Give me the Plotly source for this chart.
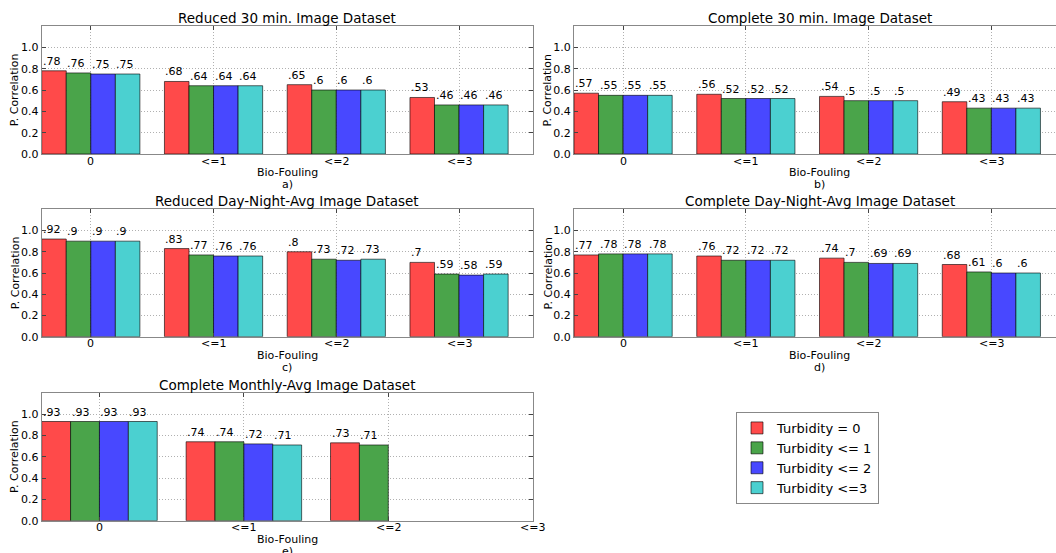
import plotly.graph_objects as go

categories = ["0", "<=1", "<=2", "<=3"]
series_names = ["Turbidity = 0", "Turbidity <= 1", "Turbidity <= 2", "Turbidity <=3"]
colors = ["rgb(255,74,74)", "rgb(74,164,74)", "rgb(72,72,255)", "rgb(75,208,208)"]

titles = ["Reduced 30 min. Image Dataset", "Complete 30 min. Image Dataset",
          "Reduced Day-Night-Avg Image Dataset", "Complete Day-Night-Avg Image Dataset",
          "Complete Monthly-Avg Image Dataset"]
letters = ["a)", "b)", "c)", "d)", "e)"]

a_red = [0.78, 0.68, 0.65, 0.53]
a_green = [0.76, 0.64, 0.6, 0.46]
a_blue = [0.75, 0.64, 0.6, 0.46]
a_cyan = [0.75, 0.64, 0.6, 0.46]

b_red = [0.57, 0.56, 0.54, 0.49]
b_green = [0.55, 0.52, 0.5, 0.43]
b_blue = [0.55, 0.52, 0.5, 0.43]
b_cyan = [0.55, 0.52, 0.5, 0.43]

c_red = [0.92, 0.83, 0.8, 0.7]
c_green = [0.9, 0.77, 0.73, 0.59]
c_blue = [0.9, 0.76, 0.72, 0.58]
c_cyan = [0.9, 0.76, 0.73, 0.59]

d_red = [0.77, 0.76, 0.74, 0.68]
d_green = [0.78, 0.72, 0.7, 0.61]
d_blue = [0.78, 0.72, 0.69, 0.6]
d_cyan = [0.78, 0.72, 0.69, 0.6]

e_red = [0.93, 0.74, 0.73, None]
e_green = [0.93, 0.74, 0.71, None]
e_blue = [0.93, 0.72, None, None]
e_cyan = [0.93, 0.71, None, None]

panels = [
    [a_red, a_green, a_blue, a_cyan],
    [b_red, b_green, b_blue, b_cyan],
    [c_red, c_green, c_blue, c_cyan],
    [d_red, d_green, d_blue, d_cyan],
    [e_red, e_green, e_blue, e_cyan],
]

W, H = 1056, 553
# pixel boxes (left, nominal right, top, bottom); right column is cut by the page edge
boxes = [
    (41.7, 532.7, 26, 154),
    (574, 1065, 26, 154),
    (41.7, 532.7, 209.3, 336.7),
    (574, 1065, 209.3, 336.7),
    (41.7, 532.7, 392.7, 520.7),
]
xmax = [3.6, 3.6, 3.6, 3.6, 3.0]

FONT = "DejaVu Sans"
fig = go.Figure()
annotations = []
bw = 0.2

for p, (data, box) in enumerate(zip(panels, boxes)):
    sfx = "" if p == 0 else str(p + 1)
    xa, ya = "x" + sfx, "y" + sfx
    l, r, t, b = box
    right_col = p in (1, 3)
    r_vis = min(r, W)
    x_hi = -0.4 + (xmax[p] + 0.4) * (r_vis - l) / (r - l)
    for j, vals in enumerate(data):
        xs = [i - 0.4 + j * bw + bw / 2 for i in range(len(categories))]
        fig.add_trace(go.Bar(
            x=xs, y=vals, width=bw, name=series_names[j],
            marker=dict(color=colors[j], line=dict(color="rgba(0,0,0,0.6)", width=1)),
            showlegend=(p == 0), xaxis=xa, yaxis=ya, hoverinfo="y"))
        for i, v in enumerate(vals):
            if v is None:
                continue
            annotations.append(dict(
                x=i - 0.4 + j * bw, y=v, xref=xa, yref=ya, text=str(v).lstrip("0"),
                showarrow=False, xanchor="left", yanchor="bottom", yshift=1, xshift=-1,
                font=dict(size=11, color="black", family=FONT)))
    dom_x = [l / W, r_vis / W]
    dom_y = [1 - b / H, 1 - t / H]
    axis_common = dict(showline=True, linecolor="#888888", linewidth=1,
                       showgrid=True, gridcolor="#b0b0b0", griddash="1px,2px", gridwidth=1,
                       zeroline=False, tickfont=dict(size=11, color="black", family=FONT),
                       ticks="inside", ticklen=4, tickcolor="#444")
    fig.update_layout(**{
        ("xaxis" + sfx): dict(domain=dom_x, anchor=ya, range=[-0.4, x_hi],
                             tickvals=list(range(len(categories))), showticklabels=False,
                             mirror="ticks", automargin=False, **axis_common),
        ("yaxis" + sfx): dict(domain=dom_y, anchor=xa, range=[0, 1.2],
                             tickvals=[0, 0.2, 0.4, 0.6, 0.8, 1.0],
                             ticktext=["0.0", "0.2", "0.4", "0.6", "0.8", "1.0"],
                             automargin=False,
                             mirror=(False if right_col else "ticks"), **axis_common),
    })
    # category labels under each axis
    for i, cat in enumerate(categories):
        annotations.append(dict(x=i, y=1 - (b + 7) / H, xref=xa, yref="paper",
                                text=cat, showarrow=False, xanchor="center", yanchor="middle",
                                font=dict(size=11, color="black", family=FONT)))
    cx = (l + r) / 2 / W
    annotations.append(dict(x=cx, y=1 - (t - 8) / H, xref="paper", yref="paper",
                            text=titles[p], showarrow=False, xanchor="center", yanchor="middle",
                            font=dict(size=13.5, color="black", family=FONT)))
    annotations.append(dict(x=cx, y=1 - (b + 18.5) / H, xref="paper", yref="paper",
                            text="Bio-Fouling", showarrow=False, xanchor="center", yanchor="middle",
                            font=dict(size=11, color="black", family=FONT)))
    annotations.append(dict(x=cx, y=1 - (b + 30.5) / H, xref="paper", yref="paper",
                            text=letters[p], showarrow=False, xanchor="center", yanchor="middle",
                            font=dict(size=11, color="black", family=FONT)))
    annotations.append(dict(x=(l - 26.5) / W, y=1 - (t + b) / 2 / H, xref="paper", yref="paper",
                            text="P. Correlation", showarrow=False, textangle=-90,
                            xanchor="center", yanchor="middle",
                            font=dict(size=11, color="black", family=FONT)))

fig.update_layout(
    width=W, height=H, margin=dict(l=0, r=0, t=0, b=0),
    plot_bgcolor="white", paper_bgcolor="white", barmode="overlay",
    annotations=annotations,
    font=dict(family=FONT, color="black"),
    legend=dict(x=736 / W, y=1 - 412 / H, xanchor="left", yanchor="top",
                bordercolor="#888888", borderwidth=1, bgcolor="white",
                font=dict(size=13, color="black", family=FONT),
                itemwidth=30, tracegroupgap=0),
)

fig.write_html("out.html", config={"displayModeBar": False},
               post_script="document.body.style.margin='0';document.body.style.overflow='hidden';")
